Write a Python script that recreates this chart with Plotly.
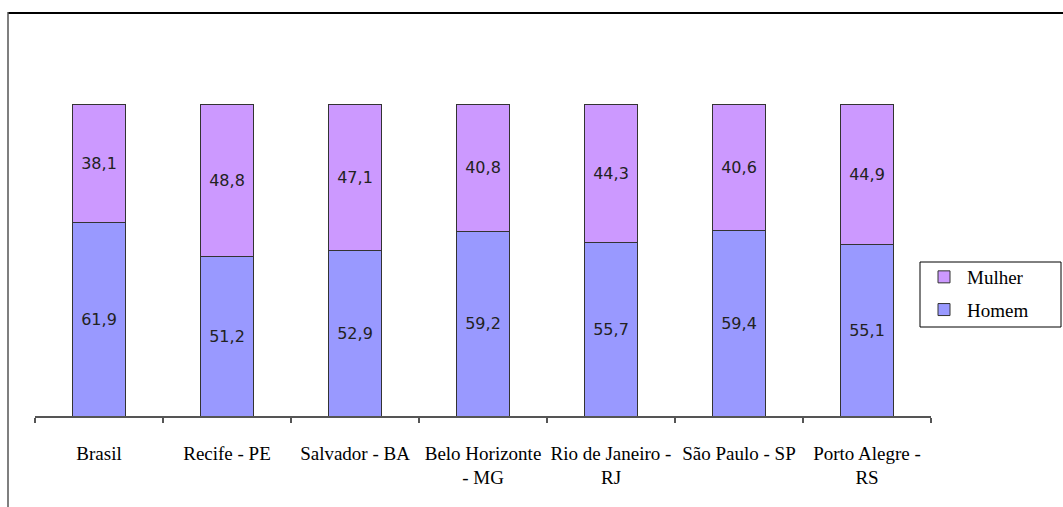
import plotly.graph_objects as go

categories = ["Brasil", "Recife - PE", "Salvador - BA", "Belo Horizonte - MG",
              "Rio de Janeiro - RJ", "São Paulo - SP", "Porto Alegre - RS"]
tick_labels = ["Brasil", "Recife - PE", "Salvador - BA", "Belo Horizonte<br>- MG",
               "Rio de Janeiro -<br>RJ", "São Paulo - SP", "Porto Alegre -<br>RS"]
homem = [61.9, 51.2, 52.9, 59.2, 55.7, 59.4, 55.1]
mulher = [38.1, 48.8, 47.1, 40.8, 44.3, 40.6, 44.9]

W, H = 1063, 507
L, R, T, B = 35, 931, 104, 416  # plot area in pixels


def px_x(x):
    return (x - L) / (R - L)


def px_y(y):
    return (B - y) / (B - T)


def fmt(v):
    return f"{v:.1f}".replace(".", ",")


label_font = dict(family="DejaVu Sans", size=16, color="#222222")
serif = "'Liberation Serif', 'Times New Roman', Times, 'DejaVu Serif', serif"

fig = go.Figure()
fig.add_trace(go.Bar(
    x=categories, y=homem, name="Homem",
    marker=dict(color="#9999FF", line=dict(color="#333333", width=1)),
    text=[fmt(v) for v in homem], textposition="inside", insidetextanchor="middle",
    textfont=label_font, legendgroup="h", legendrank=2, cliponaxis=False,
))
fig.add_trace(go.Bar(
    x=categories, y=mulher, name="Mulher",
    marker=dict(color="#CC99FF", line=dict(color="#333333", width=1)),
    text=[fmt(v) for v in mulher], textposition="inside", insidetextanchor="middle",
    textfont=label_font, legendgroup="m", legendrank=1, cliponaxis=False,
))

fig.update_layout(
    width=W, height=H, autosize=False,
    margin=dict(l=L, r=W - R, t=T, b=H - B, pad=0),
    paper_bgcolor="white", plot_bgcolor="white",
    barmode="stack", bargap=0.59,
    font=dict(family=serif, color="#000000"),
    showlegend=True,
    legend=dict(
        x=px_x(921), y=px_y(258), xanchor="left", yanchor="top",
        borderwidth=0, bgcolor="rgba(0,0,0,0)",
        font=dict(family=serif, size=19, color="#000000"),
        traceorder="grouped", tracegroupgap=5,
        itemwidth=36,
    ),
    xaxis=dict(
        type="category", range=[-0.5, 6.5],
        tickmode="array", tickvals=categories, ticktext=tick_labels,
        showline=True, linecolor="#555555", linewidth=1.5,
        ticks="outside", tickson="boundaries", ticklen=5, tickcolor="#555555",
        tickwidth=1.5,
        tickfont=dict(family=serif, size=19, color="#000000"),
        ticklabelstandoff=19, tickangle=0,
        showgrid=False, zeroline=False,
    ),
    yaxis=dict(
        range=[0, 100], visible=False, showgrid=False, zeroline=False,
    ),
    shapes=[
        dict(type="line", xref="paper", yref="paper",
             x0=px_x(8), x1=px_x(W + 5), y0=px_y(13), y1=px_y(13),
             line=dict(color="#000000", width=2)),
        dict(type="line", xref="paper", yref="paper",
             x0=px_x(8), x1=px_x(8), y0=px_y(12), y1=px_y(H + 5),
             line=dict(color="#555555", width=1.5)),
        dict(type="rect", xref="paper", yref="paper", layer="below",
             x0=px_x(920), x1=px_x(1061), y0=px_y(262), y1=px_y(327),
             line=dict(color="#000000", width=1), fillcolor="white"),
    ],
)

fig.write_html("out.html")
